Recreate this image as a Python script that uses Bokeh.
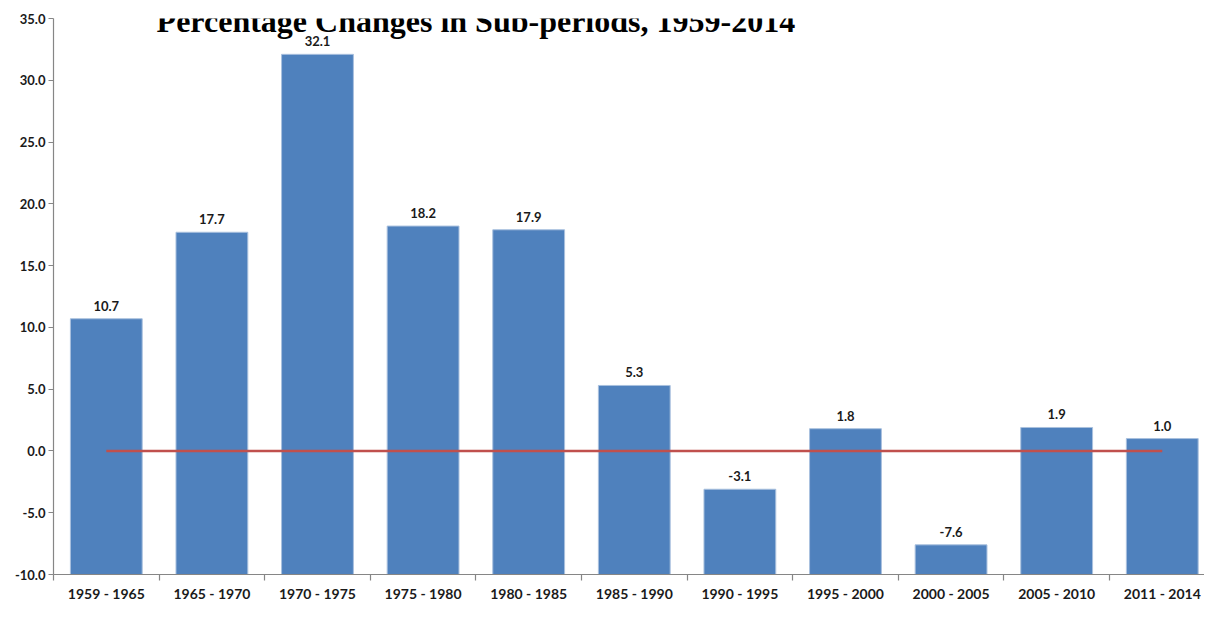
from bokeh.plotting import figure
from bokeh.models import (Range1d, FixedTicker, NumeralTickFormatter,
                          CustomJSTickFormatter, Label, ColumnDataSource)
from bokeh.core.properties import value
from bokeh.embed import file_html
from bokeh.resources import INLINE

# ---- data ----
periods = ["1959 - 1965", "1965 - 1970", "1970 - 1975", "1975 - 1980", "1980 - 1985",
           "1985 - 1990", "1990 - 1995", "1995 - 2000", "2000 - 2005", "2005 - 2010",
           "2011 - 2014"]
changes = [10.7, 17.7, 32.1, 18.2, 17.9, 5.3, -3.1, 1.8, -7.6, 1.9, 1.0]
zero_line = [0.0, 0.0, 0.0, 0.0, 0.0, 0.0, 0.0, 0.0, 0.0, 0.0, 0.0]
y_ticks = [-10, -5, 0, 5, 10, 15, 20, 25, 30, 35]
y_min, y_max = -10, 35
title_text = "Percentage Changes in Sub-periods, 1959-2014"

LABEL_FONT = "Lato"
TEXT_COLOR = "#1a1a1a"
AXIS_COLOR = "#868686"

n = len(periods)
centers = [i + 0.5 for i in range(n)]   # category slot centres
edges = [i for i in range(n + 1)]       # category slot boundaries

src = ColumnDataSource(dict(
    x=centers,
    change=changes,
    zero=zero_line,
    label=[f"{v:.1f}" for v in changes],
))

p = figure(width=1204, height=604,
           x_range=Range1d(0, n - 0.1),
           y_range=Range1d(y_min, y_max),
           output_backend="svg", toolbar_location=None,
           min_border_left=53, min_border_top=18,
           min_border_right=0, min_border_bottom=0)
p.outline_line_color = None
p.background_fill_color = "white"
p.border_fill_color = "white"
p.xgrid.visible = False
p.ygrid.visible = False

xax = p.xaxis[0]
xax.ticker = FixedTicker(ticks=centers, minor_ticks=edges)
xax.formatter = CustomJSTickFormatter(
    args=dict(labels=periods),
    code="const i = Math.floor(tick); return (i >= 0 && i < labels.length) ? labels[i] : '';")
xax.major_tick_line_color = None
xax.major_tick_in = 0
xax.major_tick_out = 0
xax.minor_tick_in = 0
xax.minor_tick_out = 6
xax.minor_tick_line_color = AXIS_COLOR
xax.minor_tick_line_width = 1.2
xax.axis_line_color = AXIS_COLOR
xax.axis_line_width = 1.2
xax.major_label_text_font = LABEL_FONT
xax.major_label_text_font_style = "bold"
xax.major_label_text_font_size = "14px"
xax.major_label_text_color = TEXT_COLOR
xax.major_label_standoff = 4

yax = p.yaxis[0]
yax.ticker = FixedTicker(ticks=y_ticks)
yax.formatter = NumeralTickFormatter(format="0.0")
yax.major_tick_in = 0
yax.major_tick_out = 5
yax.minor_tick_line_color = None
yax.axis_line_color = AXIS_COLOR
yax.axis_line_width = 1.2
yax.major_tick_line_color = AXIS_COLOR
yax.major_tick_line_width = 1.2
yax.major_label_text_font = LABEL_FONT
yax.major_label_text_font_style = "bold"
yax.major_label_text_font_size = "13px"
yax.major_label_text_color = TEXT_COLOR
yax.major_label_standoff = 3

p.vbar(x="x", top="change", bottom=y_min, width=0.68, source=src,
       fill_color="#4F81BD", line_color="#A9C0DE", line_width=1)

p.line(x="x", y="zero", source=src, line_color="#C0504D", line_width=2.5)

p.text(x="x", y="change", text="label", source=src,
       text_align="center", text_baseline="bottom", y_offset=-8,
       text_font=value(LABEL_FONT), text_font_style="bold",
       text_font_size="13px", text_color=TEXT_COLOR)

title = Label(x=4.0, y=34.8, text=title_text,
              text_align="center", text_baseline="alphabetic",
              text_font="Liberation Serif", text_font_style="bold",
              text_font_size="32px", text_color="black")
p.add_layout(title)

open("out.html", "w").write(file_html(p, INLINE))
